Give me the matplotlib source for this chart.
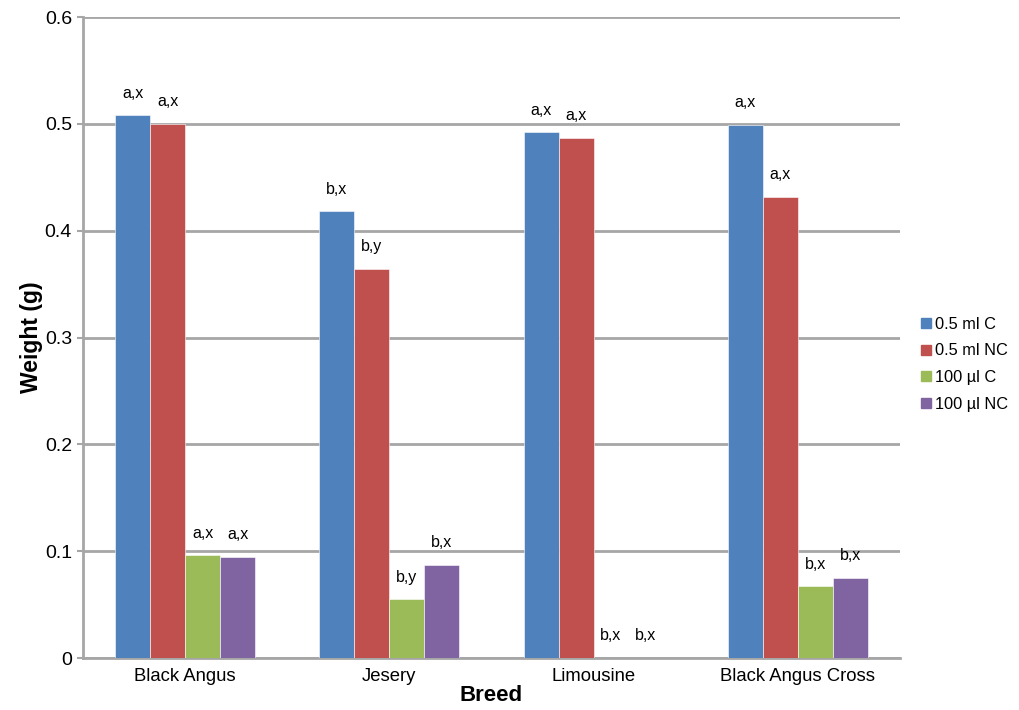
import matplotlib
matplotlib.use("Agg")
import matplotlib.pyplot as plt
from matplotlib.lines import Line2D
import numpy as np

plt.rcParams['font.family'] = ['Liberation Sans', 'DejaVu Sans']

breeds = ["Black Angus", "Jesery", "Limousine", "Black Angus Cross"]
series_names = ["0.5 ml C", "0.5 ml NC", "100 µl C", "100 µl NC"]
colors = ["#4F81BD", "#C0504D", "#9BBB59", "#8064A2"]

ml05_c = [0.508, 0.418, 0.492, 0.499]
ml05_nc = [0.500, 0.364, 0.487, 0.432]
ul100_c = [0.096, 0.055, 0.0, 0.067]
ul100_nc = [0.095, 0.087, 0.0, 0.075]

labels_ml05_c = ["a,x", "b,x", "a,x", "a,x"]
labels_ml05_nc = ["a,x", "b,y", "a,x", "a,x"]
labels_ul100_c = ["a,x", "b,y", "b,x", "b,x"]
labels_ul100_nc = ["a,x", "b,x", "b,x", "b,x"]

series = [ml05_c, ml05_nc, ul100_c, ul100_nc]
series_labels = [labels_ml05_c, labels_ml05_nc, labels_ul100_c, labels_ul100_nc]

fig = plt.figure(figsize=(10.19, 7.10), dpi=100)
ax = fig.add_axes([0.0815, 0.0732, 0.8015, 0.9028])

x = np.arange(len(breeds))
width = 0.171
grid_c = "#A6A6A6"

for i, (vals, labs) in enumerate(zip(series, series_labels)):
    pos = x + (i - 1.5) * width
    ax.bar(pos, vals, width=width, color=colors[i], edgecolor="white",
           linewidth=0.4, zorder=3, label=series_names[i])
    for px, v, t in zip(pos, vals, labs):
        ax.annotate(t, (px, v), xytext=(0, 16), textcoords="offset points",
                    ha="center", va="center", fontsize=11.5, zorder=4)

ax.set_xlim(-0.5, len(breeds) - 0.5)
ax.set_ylim(0, 0.6)
ax.set_yticks([0, 0.1, 0.2, 0.3, 0.4, 0.5, 0.6])
ax.set_yticklabels(["0", "0.1", "0.2", "0.3", "0.4", "0.5", "0.6"])
ax.set_xticks(x)
ax.set_xticklabels(breeds)

ax.yaxis.grid(True, color=grid_c, linewidth=2, zorder=1)
ax.set_axisbelow(True)
for s in ["top", "right"]:
    ax.spines[s].set_visible(False)
for s in ["left", "bottom"]:
    ax.spines[s].set_color(grid_c)
    ax.spines[s].set_linewidth(2)
ax.tick_params(axis="y", length=4, width=1.5, color=grid_c, labelsize=14, pad=4)
ax.tick_params(axis="x", length=0, labelsize=13.3, pad=7)

ax.set_ylabel("Weight (g)", fontsize=16.5, fontweight="bold", labelpad=1)
ax.set_xlabel("Breed", fontsize=16, fontweight="bold", labelpad=0)

handles = [Line2D([0], [0], marker="s", linestyle="none", markersize=7,
                  markerfacecolor=c, markeredgecolor=c) for c in colors]
fig.legend(handles, series_names, loc="center left", bbox_to_anchor=(0.886, 0.487),
           frameon=False, fontsize=11.8, handletextpad=0.05, labelspacing=0.72,
           handlelength=1.0)

fig.savefig("out.png", dpi=100)
